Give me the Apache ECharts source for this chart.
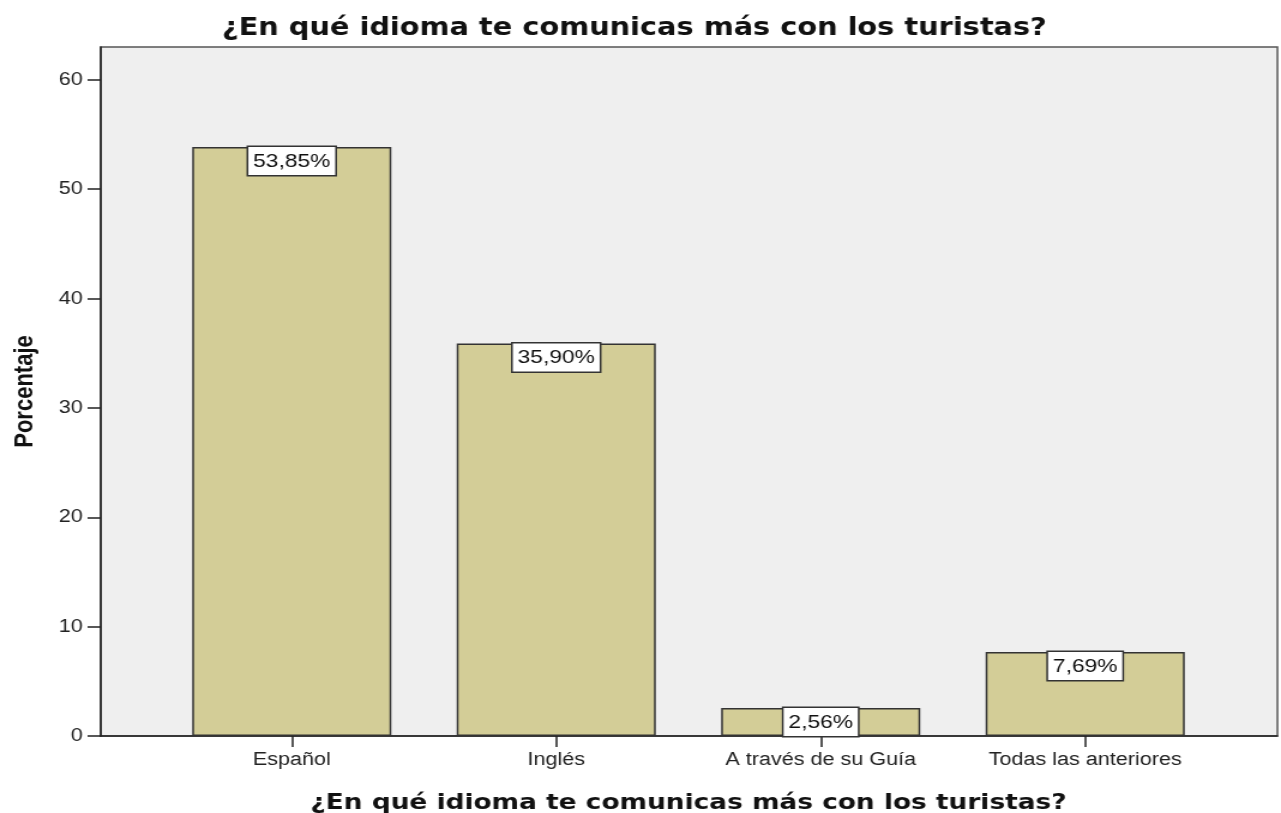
<!DOCTYPE html>
<html><head><meta charset="utf-8">
<script src="https://cdn.jsdelivr.net/npm/echarts@6/dist/echarts.min.js"></script>
<style>
html,body{margin:0;padding:0;background:#fff;overflow:hidden}
#wrap{width:1281px;height:813px;overflow:hidden}
#c{width:1068px;height:813px;transform:scaleX(1.19944);transform-origin:0 0}
</style>
</head><body><div id="wrap"><div id="c"></div></div>
<script>
const categories = ['Español', 'Inglés', 'A través de su Guía', 'Todas las anteriores'];
const values = [53.85, 35.90, 2.56, 7.69];
const yTicks = [0, 10, 20, 30, 40, 50, 60];
const titleText = '¿En qué idioma te comunicas más con los turistas?';
const yName = 'Porcentaje';

const SANS = 'Liberation Sans, Arial, sans-serif';
const WIDE = 'DejaVu Sans, Verdana, sans-serif';
const chart = echarts.init(document.getElementById('c'));
chart.setOption({
  animation: false,
  backgroundColor: '#ffffff',
  title: {
    text: titleText, left: 180, top: 12,
    textStyle: { fontFamily: WIDE, fontWeight: 'bold', fontSize: 24, color: '#111' }
  },
  grid: [
    { left: 84, right: 3, top: 47, bottom: 77, show: true, backgroundColor: '#efefef', borderColor: '#555', borderWidth: 1.5, outerBoundsMode: 'none', containLabel: false },
    { left: 133, right: 53, top: 47, bottom: 77, show: false, outerBoundsMode: 'none', containLabel: false }
  ],
  xAxis: [
    { type: 'value', gridIndex: 0, min: 0, max: 1, show: true,
      axisLine: { show: true, lineStyle: { color: '#222', width: 1.5 } },
      axisTick: { show: false }, axisLabel: { show: false }, splitLine: { show: false } },
    { type: 'category', gridIndex: 1, data: categories,
      axisLine: { show: false },
      axisTick: { show: true, alignWithLabel: true, length: 11, lineStyle: { color: '#222', width: 1.5 } },
      axisLabel: { fontFamily: SANS, fontSize: 18, color: '#222', margin: 15 },
      name: titleText, nameLocation: 'middle', nameGap: 56,
      nameTextStyle: { fontFamily: WIDE, fontWeight: 'bold', fontSize: 22, color: '#111' } }
  ],
  yAxis: [
    { type: 'value', gridIndex: 0, min: 0, max: 63, interval: 10,
      axisLine: { show: true, lineStyle: { color: '#222', width: 1.5 } },
      axisTick: { show: true, length: 11, lineStyle: { color: '#222', width: 1.5 },
        customValues: yTicks },
      axisLabel: { fontFamily: SANS, fontSize: 18, color: '#222', margin: 15, customValues: yTicks },
      splitLine: { show: false },
      name: yName, nameLocation: 'middle', nameGap: 52,
      nameTextStyle: { fontFamily: SANS, fontWeight: 'bold', fontSize: 22, color: '#111' } },
    { type: 'value', gridIndex: 1, min: 0, max: 63, show: false, splitLine: { show: false } }
  ],
  series: [{
    type: 'bar', xAxisIndex: 1, yAxisIndex: 1, data: values, barWidth: 166,
    itemStyle: { color: '#d3cd97', borderColor: '#333', borderWidth: 1.5 },
    label: {
      show: true, position: 'insideTop', distance: 0,
      formatter: p => p.value.toFixed(2).replace('.', ',') + '%',
      fontFamily: SANS, fontSize: 19, color: '#111',
      backgroundColor: '#ffffff', borderColor: '#333', borderWidth: 1.5,
      padding: [5, 4, 4, 4]
    }
  }]
});
</script></body></html>
